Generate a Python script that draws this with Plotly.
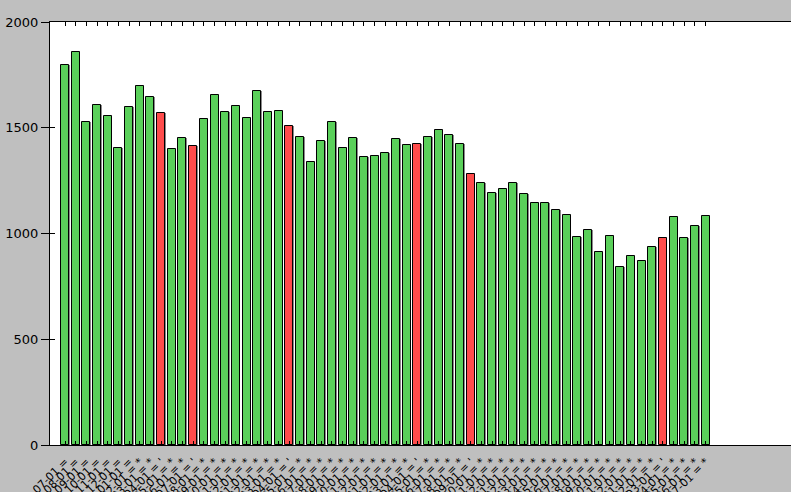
import plotly.graph_objects as go

months = [
    "2009-07-01", "2009-08-01", "2009-09-01", "2009-10-01", "2009-11-01", "2009-12-01",
    "2010-01-01", "2010-02-01", "2010-03-01", "2010-04-01", "2010-05-01", "2010-06-01",
    "2010-07-01", "2010-08-01", "2010-09-01", "2010-10-01", "2010-11-01", "2010-12-01",
    "2011-01-01", "2011-02-01", "2011-03-01", "2011-04-01", "2011-05-01", "2011-06-01",
    "2011-07-01", "2011-08-01", "2011-09-01", "2011-10-01", "2011-11-01", "2011-12-01",
    "2012-01-01", "2012-02-01", "2012-03-01", "2012-04-01", "2012-05-01", "2012-06-01",
    "2012-07-01", "2012-08-01", "2012-09-01", "2012-10-01", "2012-11-01", "2012-12-01",
    "2013-01-01", "2013-02-01", "2013-03-01", "2013-04-01", "2013-05-01", "2013-06-01",
    "2013-07-01", "2013-08-01", "2013-09-01", "2013-10-01", "2013-11-01", "2013-12-01",
    "2014-01-01", "2014-02-01", "2014-03-01", "2014-04-01", "2014-05-01", "2014-06-01",
    "2014-07-01",
]
values = [
    1797, 1857, 1526, 1606, 1554, 1403, 1596, 1696, 1644, 1568,
    1398, 1450, 1412, 1540, 1653, 1573, 1601, 1545, 1672, 1573,
    1578, 1507, 1455, 1338, 1436, 1526, 1403, 1450, 1360, 1365,
    1379, 1445, 1417, 1422, 1455, 1488, 1464, 1422, 1280, 1237,
    1190, 1209, 1237, 1185, 1143, 1143, 1110, 1086, 982, 1015,
    911, 987, 840, 892, 868, 935, 977, 1076, 977, 1034,
    1081,
]
flags = [
    "=", "=", "=", "=", "=", "=", "=", "*", "*", "'",
    "*", "*", "'", "*", "*", "*", "*", "*", "*", "*",
    "*", "'", "*", "*", "*", "*", "*", "*", "*", "*",
    "*", "*", "*", "'", "*", "*", "*", "*", "'", "*",
    "*", "*", "*", "*", "*", "*", "*", "*", "*", "*",
    "*", "*", "*", "*", "*", "*", "'", "*", "*", "*",
    "*",
]

GREEN = "#5ad05a"
RED = "#ff4c4c"

labels = []
for m, f in zip(months, flags):
    if f == "=":
        labels.append(m + " =")
    else:
        labels.append(m + " = " + f)
colors = [RED if f == "'" else GREEN for f in flags]
idx = list(range(len(values)))

fig = go.Figure()
# shadow
fig.add_trace(go.Bar(
    x=idx, y=values, width=0.75, offset=-0.32,
    marker=dict(color="#8a8a8a", line=dict(width=0)),
    hoverinfo="skip", showlegend=False,
))
fig.add_trace(go.Bar(
    x=idx, y=values, width=0.75, offset=-0.375,
    marker=dict(color=colors, line=dict(color="black", width=1)),
    showlegend=False,
))
# invisible trace for inner y ticks
fig.add_trace(go.Scatter(x=[0], y=[0], yaxis="y2", mode="markers",
                         marker=dict(opacity=0), hoverinfo="skip", showlegend=False))

fig.update_layout(
    width=791, height=492,
    paper_bgcolor="#bfbfbf", plot_bgcolor="white",
    margin=dict(l=50, r=0, t=22, b=47),
    barmode="overlay", bargap=0,
    font=dict(family="DejaVu Sans", color="black"),
    xaxis=dict(
        range=[-1.41, 68.0], tickmode="array", tickvals=idx, ticktext=labels,
        tickangle=-45, tickfont=dict(size=11), automargin=False,
        showgrid=False, zeroline=False, showline=True, linecolor="black", linewidth=1,
        mirror="ticks", ticks="inside", ticklen=4, tickcolor="black",
        ticklabelstandoff=5,
    ),
    yaxis=dict(
        range=[0, 2000], tickvals=[0, 500, 1000, 1500, 2000], tickfont=dict(size=13),
        showgrid=False, zeroline=False, showline=True, linecolor="black", linewidth=1,
        ticks="outside", ticklen=8, tickcolor="black", automargin=False,
    ),
    yaxis2=dict(
        range=[0, 2000], overlaying="y", side="left", tickvals=[0, 500, 1000, 1500, 2000],
        showticklabels=False, ticks="inside", ticklen=5, tickcolor="black",
        showgrid=False, zeroline=False, showline=False,
    ),
)

fig.write_html(
    "out.html",
    config={"displayModeBar": False},
    post_script="document.body.style.margin='0';document.body.style.padding='0';"
                "document.body.style.overflow='hidden';",
)
